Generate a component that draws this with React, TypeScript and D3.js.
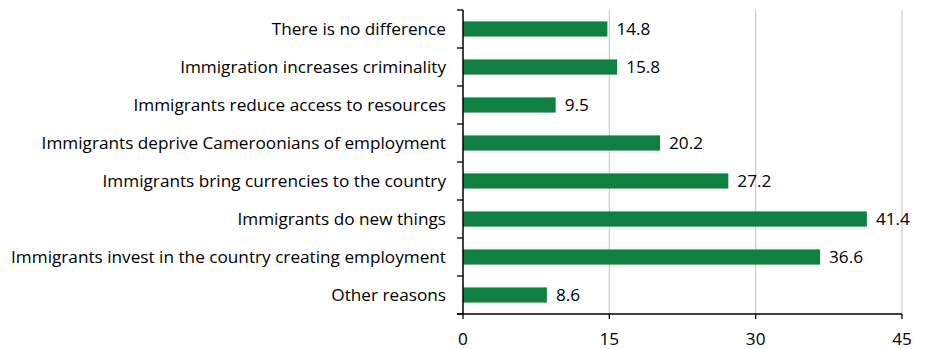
import React from "react";
import * as d3 from "d3";

const categories = [
  "There is no difference",
  "Immigration increases criminality",
  "Immigrants reduce access to resources",
  "Immigrants deprive Cameroonians of employment",
  "Immigrants bring currencies to the country",
  "Immigrants do new things",
  "Immigrants invest in the country creating employment",
  "Other reasons",
];
const values = [14.8, 15.8, 9.5, 20.2, 27.2, 41.4, 36.6, 8.6];
const xTicks = [0, 15, 30, 45];

const W = 928;
const H = 349;
const left = 463;
const right = 902;
const top = 10;
const bottom = 314;
const FONT = "'Open Sans', sans-serif";
const FS = 17.2;

export default function App() {
  const x = d3.scaleLinear().domain([0, 45]).range([left, right]);
  const y = d3.scaleBand<string>().domain(categories).range([top, bottom]).paddingInner(0.6).paddingOuter(0.3);
  const band = d3.scaleBand<string>().domain(categories).range([top, bottom]);

  return (
    <svg width={W} height={H} style={{ position: "absolute", left: 0, top: 0 }}>
      <rect width={W} height={H} fill="#fff" />
      {xTicks.filter((t) => t > 0).map((t) => (
        <line key={"g" + t} x1={x(t)} x2={x(t)} y1={top} y2={bottom} stroke="#d0d0d0" strokeWidth={1.3} />
      ))}
      {categories.map((c, i) => (
        <g key={c}>
          <rect x={x(0)} y={y(c)!} width={x(values[i]) - x(0)} height={y.bandwidth()} fill="#0f8042" />
          <text x={x(values[i]) + 9} y={y(c)! + y.bandwidth() / 2} dy="0.36em" fontSize={FS} fontFamily={FONT} fill="#000">
            {values[i].toFixed(1)}
          </text>
          <text x={446} y={y(c)! + y.bandwidth() / 2} dy="0.36em" textAnchor="end" fontSize={FS} fontFamily={FONT} fill="#000">
            {c}
          </text>
        </g>
      ))}
      {/* category axis with tick marks at band boundaries */}
      <line x1={x(0)} x2={x(0)} y1={top} y2={bottom} stroke="#000" strokeWidth={1.5} />
      {d3.range(categories.length + 1).map((k) => {
        const yy = top + k * band.step();
        return <line key={"yt" + k} x1={x(0) - 6} x2={x(0)} y1={yy} y2={yy} stroke="#000" strokeWidth={1.3} />;
      })}
      {/* value axis */}
      <line x1={x(0) - 6} x2={right} y1={bottom} y2={bottom} stroke="#000" strokeWidth={1.5} />
      {xTicks.map((t) => (
        <g key={"xt" + t}>
          <line x1={x(t)} x2={x(t)} y1={bottom} y2={bottom + 5} stroke="#000" strokeWidth={1.3} />
          <text x={x(t)} y={345} textAnchor="middle" fontSize={FS} fontFamily={FONT} fill="#000">
            {t}
          </text>
        </g>
      ))}
    </svg>
  );
}
